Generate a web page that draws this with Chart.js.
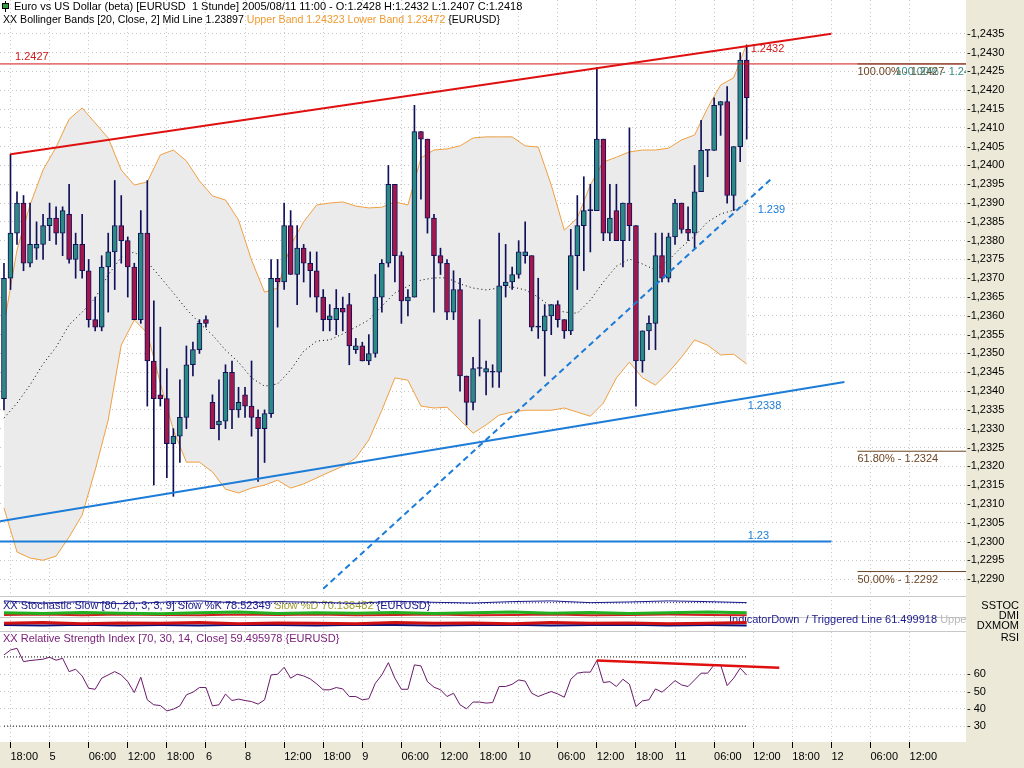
<!DOCTYPE html>
<html>
<head>
<meta charset="utf-8">
<title>EURUSD 1 Stunde</title>
<script src="https://cdn.jsdelivr.net/npm/chart.js@4.4.1/dist/chart.umd.min.js"></script>
<style>
  html, body { margin: 0; padding: 0; background: #ECE9D8; }
  #wrap { width: 1024px; height: 768px; }
</style>
</head>
<body>
<div id="wrap"><canvas id="chartMain" width="1024" height="768"></canvas></div>
<script>
'use strict';

// hourly bars, slot 0 = 2005/08/04 17:00, last slot (114) = 2005/08/11 11:00
const opens = [
  1.2338, 1.2370, 1.2382, 1.2390, 1.2374, 1.2378, 1.2379, 1.2384, 1.2386, 1.2382,
  1.2387, 1.2375, 1.2379, 1.2372, 1.2359, 1.2357, 1.2373, 1.2377, 1.2384, 1.2380,
  1.2373, 1.2359, 1.2382, 1.2348, 1.2339, 1.2338, 1.2326, 1.2328, 1.2333, 1.2347,
  1.2351, 1.2359, 1.2337, 1.2331, 1.2332, 1.2345, 1.2335, 1.2339, 1.2336, 1.2333,
  1.2330, 1.2334, 1.2370, 1.2369, 1.2384, 1.2371, 1.2378, 1.2374, 1.2372, 1.2365,
  1.2359, 1.2359, 1.2362, 1.2363, 1.2351, 1.2352, 1.2348, 1.2350, 1.2365, 1.2374,
  1.2395, 1.2376, 1.2364, 1.2365, 1.2409, 1.2407, 1.2386, 1.2376, 1.2374, 1.2361,
  1.2367, 1.2344, 1.2337, 1.2346, 1.2345, 1.2345, 1.2345, 1.2368, 1.2369, 1.2371,
  1.2376, 1.2376, 1.2357, 1.2356, 1.2360, 1.2363, 1.2359, 1.2356, 1.2376, 1.2384,
  1.2388, 1.2388, 1.2407, 1.2382, 1.2388, 1.2380, 1.2390, 1.2384, 1.2348, 1.2356,
  1.2358, 1.2376, 1.2370, 1.2381, 1.2390, 1.2383, 1.2382, 1.2393, 1.2404, 1.2404,
  1.2416, 1.2417, 1.2392, 1.2405, 1.2428
];
const highs = [
  1.2374, 1.2403, 1.2393, 1.2392, 1.2390, 1.2385, 1.2387, 1.2390, 1.2389, 1.2389,
  1.2395, 1.2382, 1.2387, 1.2375, 1.2365, 1.2376, 1.2382, 1.2396, 1.2392, 1.2381,
  1.2374, 1.2388, 1.2396, 1.2364, 1.2357, 1.2346, 1.2330, 1.2343, 1.2352, 1.2353,
  1.2359, 1.2360, 1.2339, 1.2343, 1.2347, 1.2348, 1.2341, 1.2341, 1.2348, 1.2335,
  1.2335, 1.2375, 1.2375, 1.2390, 1.2388, 1.2384, 1.2379, 1.2377, 1.2377, 1.2367,
  1.2363, 1.2367, 1.2365, 1.2366, 1.2354, 1.2353, 1.2355, 1.2371, 1.2375, 1.2400,
  1.2395, 1.2377, 1.2367, 1.2416, 1.2409, 1.2407, 1.2387, 1.2378, 1.2375, 1.2372,
  1.2370, 1.2344, 1.2349, 1.2359, 1.2348, 1.2347, 1.2382, 1.2379, 1.2373, 1.2380,
  1.2385, 1.2376, 1.2370, 1.2363, 1.2363, 1.2364, 1.2359, 1.2383, 1.2392, 1.2397,
  1.2395, 1.2426, 1.2407, 1.2395, 1.2395, 1.2390, 1.2410, 1.2384, 1.2356, 1.2360,
  1.2382, 1.2382, 1.2382, 1.2391, 1.2390, 1.2389, 1.2400, 1.2412, 1.2404, 1.2418,
  1.2417, 1.2421, 1.2405, 1.2430, 1.2432
];
const lows = [
  1.2335, 1.2367, 1.2379, 1.2372, 1.2373, 1.2375, 1.2375, 1.2380, 1.2379, 1.2376,
  1.2374, 1.2370, 1.2370, 1.2357, 1.2356, 1.2356, 1.2361, 1.2367, 1.2374, 1.2365,
  1.2359, 1.2358, 1.2336, 1.2315, 1.2336, 1.2317, 1.2312, 1.2321, 1.2330, 1.2344,
  1.2350, 1.2357, 1.2330, 1.2327, 1.2330, 1.2330, 1.2333, 1.2333, 1.2328, 1.2316,
  1.2321, 1.2333, 1.2357, 1.2367, 1.2371, 1.2363, 1.2369, 1.2365, 1.2361, 1.2356,
  1.2356, 1.2355, 1.2356, 1.2347, 1.2350, 1.2348, 1.2347, 1.2349, 1.2361, 1.2373,
  1.2369, 1.2358, 1.2360, 1.2365, 1.2391, 1.2382, 1.2361, 1.2371, 1.2359, 1.2359,
  1.2340, 1.2331, 1.2335, 1.2344, 1.2339, 1.2341, 1.2341, 1.2365, 1.2367, 1.2370,
  1.2374, 1.2356, 1.2354, 1.2344, 1.2355, 1.2357, 1.2354, 1.2355, 1.2367, 1.2372,
  1.2377, 1.2388, 1.2380, 1.2380, 1.2380, 1.2373, 1.2380, 1.2336, 1.2345, 1.2351,
  1.2351, 1.2369, 1.2369, 1.2379, 1.2382, 1.2380, 1.2378, 1.2393, 1.2397, 1.2404,
  1.2408, 1.2390, 1.2388, 1.2401, 1.2407
];
const closes = [
  1.2370, 1.2382, 1.2390, 1.2374, 1.2379, 1.2379, 1.2384, 1.2386, 1.2382, 1.2388,
  1.2375, 1.2379, 1.2372, 1.2359, 1.2357, 1.2373, 1.2377, 1.2384, 1.2380, 1.2373,
  1.2359, 1.2382, 1.2348, 1.2338, 1.2338, 1.2326, 1.2328, 1.2333, 1.2347, 1.2351,
  1.2358, 1.2358, 1.2330, 1.2332, 1.2345, 1.2335, 1.2337, 1.2336, 1.2333, 1.2330,
  1.2334, 1.2370, 1.2369, 1.2384, 1.2371, 1.2378, 1.2374, 1.2372, 1.2365, 1.2359,
  1.2360, 1.2362, 1.2361, 1.2352, 1.2352, 1.2348, 1.2350, 1.2365, 1.2374, 1.2395,
  1.2376, 1.2364, 1.2365, 1.2409, 1.2407, 1.2386, 1.2376, 1.2374, 1.2361, 1.2367,
  1.2344, 1.2337, 1.2346, 1.2346, 1.2346, 1.2345, 1.2368, 1.2369, 1.2371, 1.2377,
  1.2377, 1.2357, 1.2357, 1.2360, 1.2363, 1.2359, 1.2356, 1.2376, 1.2384, 1.2388,
  1.2388, 1.2407, 1.2382, 1.2386, 1.2380, 1.2390, 1.2384, 1.2348, 1.2356, 1.2358,
  1.2376, 1.2370, 1.2381, 1.2390, 1.2383, 1.2382, 1.2393, 1.2404, 1.2404, 1.2416,
  1.2417, 1.2392, 1.2405, 1.2428, 1.2418
];

// Bollinger bands [20, Close, 2]
const upperBand = [
  1.23576, 1.23775, 1.23895, 1.23988, 1.24049, 1.24123, 1.24153, 1.24113, 1.24073, 1.23988,
  1.23948, 1.23956, 1.24028, 1.24041, 1.24012, 1.23959, 1.23919, 1.23908, 1.23855, 1.23748,
  1.23663, 1.23674, 1.23788, 1.23850, 1.23895, 1.23900, 1.23903, 1.23892, 1.23887, 1.23889,
  1.23903, 1.23895, 1.24020, 1.24041, 1.24044, 1.24052, 1.24073, 1.24076, 1.24076, 1.24076,
  1.24052, 1.24049, 1.23948, 1.23828, 1.23860, 1.23948, 1.24009, 1.24022, 1.24036, 1.24041,
  1.24041, 1.24046, 1.24068, 1.24081, 1.24153, 1.24214, 1.24233, 1.24323
];
const lowerBand = [
  1.23089, 1.22972, 1.22956, 1.22950, 1.22961, 1.23012, 1.23070, 1.23190, 1.23323, 1.23522,
  1.23589, 1.23554, 1.23421, 1.23296, 1.23211, 1.23211, 1.23185, 1.23139, 1.23129, 1.23142,
  1.23150, 1.23163, 1.23142, 1.23153, 1.23169, 1.23185, 1.23200, 1.23222, 1.23270, 1.23349,
  1.23435, 1.23429, 1.23360, 1.23355, 1.23357, 1.23323, 1.23288, 1.23310, 1.23336, 1.23344,
  1.23349, 1.23349, 1.23349, 1.23355, 1.23344, 1.23333, 1.23368, 1.23435, 1.23477, 1.23435,
  1.23416, 1.23450, 1.23490, 1.23536, 1.23522, 1.23496, 1.23498, 1.23472
];
const midBand = [
  1.23328, 1.23368, 1.23416, 1.23472, 1.23517, 1.23576, 1.23610, 1.23647, 1.23709, 1.23756,
  1.23770, 1.23743, 1.23703, 1.23661, 1.23618, 1.23581, 1.23549, 1.23509, 1.23477, 1.23435,
  1.23413, 1.23419, 1.23456, 1.23506, 1.23533, 1.23536, 1.23552, 1.23570, 1.23589, 1.23626,
  1.23661, 1.23679, 1.23695, 1.23701, 1.23701, 1.23685, 1.23674, 1.23669, 1.23674, 1.23677,
  1.23669, 1.23650, 1.23623, 1.23610, 1.23607, 1.23642, 1.23690, 1.23732, 1.23751, 1.23738,
  1.23722, 1.23748, 1.23783, 1.23812, 1.23850, 1.23871, 1.23881, 1.23897
];
const bandSlots = upperBand.map((v, i) => i * 2);

// RSI [70, 30, 14, Close], one value per bar
const rsiValues = [
  71.2, 74.0, 75.0, 67.3, 67.9, 68.3, 68.7, 69.8, 68.1, 69.2,
  61.5, 62.9, 59.0, 51.9, 51.3, 57.7, 59.6, 61.5, 59.6, 55.7,
  49.4, 58.3, 45.2, 42.3, 41.9, 38.8, 39.8, 41.7, 48.1, 49.6,
  52.3, 52.3, 41.7, 42.3, 48.5, 44.8, 45.6, 44.8, 44.2, 42.7,
  45.2, 59.6, 60.0, 64.0, 57.7, 60.0, 59.0, 57.3, 54.4, 51.0,
  51.0, 52.3, 51.5, 47.1, 47.1, 45.2, 45.8, 54.8, 59.6, 66.7,
  57.7, 51.3, 51.3, 65.4, 64.8, 55.7, 52.5, 51.0, 47.1, 49.0,
  42.3, 40.0, 43.9, 43.9, 43.3, 43.6, 52.9, 52.9, 54.2, 56.7,
  56.0, 49.0, 47.1, 48.6, 50.0, 48.6, 46.7, 57.1, 60.6, 61.2,
  61.2, 67.9, 55.2, 55.7, 52.9, 57.1, 54.2, 41.3, 44.6, 45.2,
  51.5, 49.6, 52.9, 56.3, 53.8, 52.9, 56.7, 60.6, 60.6, 65.4,
  65.4, 53.4, 57.7, 63.5, 59.5
];

// the squeezed stochastic / DMI / DX momentum strip, read every 6th bar
const stochK   = [86, 80, 84, 78, 82, 86, 80, 84, 82, 79, 85, 82, 80, 84, 86, 81, 83, 86, 84, 81];
const stochD   = [80, 79, 80, 79, 78, 80, 80, 79, 80, 78, 80, 80, 79, 80, 81, 80, 80, 81, 81, 80];
const dmiPlus  = [52, 50, 53, 51, 49, 52, 54, 50, 52, 51, 53, 50, 52, 54, 51, 53, 50, 52, 54, 52];
const dmiMinus = [46, 47, 45, 47, 46, 45, 47, 46, 47, 45, 46, 47, 45, 46, 47, 45, 46, 47, 46, 45];
const dxLine   = [22, 24, 21, 23, 22, 24, 21, 23, 22, 21, 24, 22, 23, 21, 24, 22, 23, 21, 22, 24];
const dxSignal = [17, 16, 18, 16, 17, 16, 18, 17, 16, 18, 17, 16, 17, 18, 16, 17, 18, 16, 17, 16];
const stripSlots = stochK.map((v, i) => i * 6);

// drawn lines: [slot, value] pairs
const resistLine = [[1, 1.2403], [127, 1.2435]];
const supportLine = [[-0.6, 1.23054], [129, 1.23424]];
const dashLine = [[49, 1.22874], [118, 1.23968]];
const rsiTrend = [[91, 67.9], [119, 63.8]];
const redLevel = 1.2427;
const blueLevel = 1.23;
const fibLevels = [1.2427, 1.2324, 1.2292];
const fibNames = ['100.00%', '61.80%', '50.00%'];

// axis labels
const xTickLabels = ['18:00', '5', '06:00', '12:00', '18:00', '6', '8', '12:00', '18:00', '9',
  '06:00', '12:00', '18:00', '10', '06:00', '12:00', '18:00', '11', '06:00', '12:00',
  '18:00', '12', '06:00', '12:00'];
const xTickSlots = xTickLabels.map((l, i) => 1 + i * 6);
const priceTicks = [];
for (let p = 12290; p <= 12435; p += 5) priceTicks.push(p / 10000);
const rsiTicks = [30, 40, 50, 60];

const xMin = -0.61, xMax = 147.66;
const fontName = '"Liberation Sans", Arial, sans-serif';
const last = opens.length - 1;

// helpers
let pairs = (xs, ys) => xs.map((x, i) => ({x: x, y: ys[i]}));
let segment = (pts) => pts.map(p => ({x: p[0], y: p[1]}));
let flat = (x0, x1, v) => [{x: x0, y: v}, {x: x1, y: v}];
const bodyColors = closes.map((c, i) => c > opens[i] ? '#2B8A84' : (c < opens[i] ? '#A3174B' : '#10105A'));
const barIdx = opens.map((v, i) => i);

function lineSet(label, data, axis, color, width, extra) {
  return Object.assign({
    type: 'line', label: label, data: data, yAxisID: axis,
    borderColor: color, borderWidth: width, pointRadius: 0, fill: false, tension: 0, order: 3
  }, extra || {});
}

function drawParts(ctx, parts, x, y) {
  parts.forEach(function(p) {
    ctx.fillStyle = p[1];
    ctx.fillText(p[0], x, y);
    x += ctx.measureText(p[0]).width;
  });
}

// every axis box keeps its exact size, no label overhang padding
function fixBox(size, vertical) {
  return function(s) {
    if (vertical) { s.width = size; } else { s.height = size; }
    s.paddingTop = 0; s.paddingBottom = 0; s.paddingLeft = 0; s.paddingRight = 0;
  };
}

const datasets = [
  lineSet('Upper Band', pairs(bandSlots, upperBand), 'y', '#F0A040', 1, {fill: '+1', backgroundColor: '#EBEBEB', order: 20}),
  lineSet('Lower Band', pairs(bandSlots, lowerBand), 'y', '#F0A040', 1, {order: 19}),
  lineSet('Mid Line', pairs(bandSlots, midBand), 'y', '#000000', 1, {borderDash: [1, 3], order: 18}),
  {
    type: 'bar', label: 'Wick', yAxisID: 'y', grouped: false, order: 10,
    data: barIdx.map(i => ({x: i, y: [lows[i], highs[i]]})),
    backgroundColor: '#10105A', barThickness: 1
  },
  {
    type: 'bar', label: 'Body', yAxisID: 'y', grouped: false, order: 9,
    data: barIdx.map(i => ({x: i, y: [opens[i], closes[i]]})),
    backgroundColor: bodyColors, borderColor: '#10105A', borderWidth: 1,
    borderSkipped: false, barThickness: 5, minBarLength: 1
  },
  lineSet('1.2427', flat(xMin, xMax, redLevel), 'y', '#D01818', 1),
  lineSet('1.23', flat(xMin, 127, blueLevel), 'y', '#1C7CD8', 2),
  lineSet('Resistance', segment(resistLine), 'y', '#E01010', 2, {order: 2}),
  lineSet('Support', segment(supportLine), 'y', '#1C7CD8', 2, {order: 2}),
  lineSet('Trend', segment(dashLine), 'y', '#1C7CD8', 2, {borderDash: [6, 4], order: 2})
];
fibLevels.forEach(function(v, i) {
  datasets.push(lineSet('Fib ' + fibNames[i], flat(131, xMax, v), 'y', '#6B4423', 1, {order: 1}));
});
datasets.push(
  lineSet('SSTOC %K', pairs(stripSlots, stochK), 'ys', '#1A1A8C', 1),
  lineSet('SSTOC %D', pairs(stripSlots, stochD), 'ys', '#1A1A8C', 1, {borderDash: [1, 2]}),
  lineSet('DMI+', pairs(stripSlots, dmiPlus), 'ys', '#20B020', 3),
  lineSet('DMI-', pairs(stripSlots, dmiMinus), 'ys', '#D02020', 2),
  lineSet('DXMOM', pairs(stripSlots, dxLine), 'ys', '#D01010', 3),
  lineSet('DXMOM signal', pairs(stripSlots, dxSignal), 'ys', '#10107A', 2),
  lineSet('RSI 70', flat(0, last, 70), 'yr', '#000000', 1, {borderDash: [1, 2]}),
  lineSet('RSI 30', flat(0, last, 30), 'yr', '#000000', 1, {borderDash: [1, 2]}),
  lineSet('RSI', pairs(barIdx, rsiValues), 'yr', '#6A1A6A', 1),
  lineSet('RSI trend', segment(rsiTrend), 'yr', '#E01010', 2.5, {order: 1})
);

// backgrounds, panel titles, value labels
const decor = {
  id: 'decor',
  beforeDraw(chart) {
    const {ctx, chartArea: a, width, height} = chart;
    ctx.save();
    ctx.fillStyle = '#ECE9D8';
    ctx.fillRect(0, 0, width, height);
    ctx.fillStyle = '#FFFFFF';
    ctx.fillRect(a.left, a.top, a.right - a.left, a.bottom - a.top);
    ctx.restore();
  },
  beforeDatasetsDraw(chart) {
    const {ctx, chartArea: a, scales} = chart;
    const ys = scales.ys, yr = scales.yr;
    ctx.save();
    ctx.strokeStyle = '#C8C8C8';
    ctx.lineWidth = 1;
    [ys.top, ys.top + 21, yr.top].forEach(function(yy) {
      ctx.beginPath();
      ctx.moveTo(a.left, Math.round(yy) + 0.5);
      ctx.lineTo(a.right, Math.round(yy) + 0.5);
      ctx.stroke();
    });
    ctx.beginPath();
    ctx.rect(a.left, a.top, a.right - a.left, a.bottom - a.top);
    ctx.clip();
    ctx.font = '11px ' + fontName;
    ctx.textBaseline = 'middle';
    drawParts(ctx, [['XX Stochastic Slow [80, 20, 3, 3, 9] Slow %K 78.52349 ', '#1A1A8C'],
      ['Slow %D 70.138482', '#A0A030'], [' {EURUSD}', '#1A1A8C']], 3, ys.top + 10);
    const xs = scales.x;
    const pre = ctx.measureText('Indi').width;
    drawParts(ctx, [['IndicatorDown  / Triggered Line 61.499918 ', '#1A1A8C'], ['UpperArea', '#B8B8B8']],
      xs.getPixelForValue(last) - pre, ys.top + 24);
    drawParts(ctx, [['XX Relative Strength Index [70, 30, 14, Close] 59.495978 {EURUSD}', '#7A207A']], 3, yr.top + 8);
    ctx.restore();
  },
  afterDraw(chart) {
    const {ctx, scales} = chart;
    const xs = scales.x, y = scales.y, ys = scales.ys, yr = scales.yr;
    ctx.save();
    ctx.font = '11px ' + fontName;
    ctx.textBaseline = 'middle';
    // header icon
    ctx.fillStyle = '#000000';
    ctx.fillRect(5, 1, 1, 11);
    ctx.fillStyle = '#30A040';
    ctx.fillRect(2, 3, 7, 6);
    ctx.strokeStyle = '#000000';
    ctx.strokeRect(2.5, 3.5, 6, 5);
    drawParts(ctx, [['Euro vs US Dollar (beta) [EURUSD  1 Stunde] 2005/08/11 11:00 - O:1.2428 H:1.2432 L:1.2407 C:1.2418', '#000000']], 14, 7);
    ctx.font = '10.6px ' + fontName;
    drawParts(ctx, [['XX Bollinger Bands [20, Close, 2] Mid Line 1.23897 ', '#000000'],
      ['Upper Band 1.24323 Lower Band 1.23472', '#F09A30'], [' {EURUSD}', '#000000']], 3, 20);
    ctx.font = '11px ' + fontName;
    // line value labels
    const xl = xs.getPixelForValue(last);
    drawParts(ctx, [['1.2427', '#D01818']], 15, y.getPixelForValue(redLevel) - 7);
    drawParts(ctx, [['1.2432', '#D01818']], xl + 4, y.getPixelForValue(1.2432) + 4);
    drawParts(ctx, [['1.239', '#1C7CD8']], xl + 11, y.getPixelForValue(1.239) + 7);
    drawParts(ctx, [['1.2338', '#1C7CD8']], xl + 1, y.getPixelForValue(1.2338) + 7);
    drawParts(ctx, [['1.23', '#1C7CD8']], xl + 1, y.getPixelForValue(blueLevel) - 6);
    // fibonacci labels
    const fx = xs.getPixelForValue(131);
    ctx.save();
    ctx.beginPath();
    ctx.rect(0, 0, xs.right, chart.height);
    ctx.clip();
    fibLevels.forEach(function(v, i) {
      drawParts(ctx, [[fibNames[i] + ' - ' + v.toFixed(4), '#6B4423']], fx, y.getPixelForValue(v) + 8);
    });
    drawParts(ctx, [['100.00% - 1.2427', '#3A8A80']], fx + 38, y.getPixelForValue(1.2427) + 8);
    ctx.restore();
    // panel names in the right axis strip
    ctx.textAlign = 'right';
    drawParts(ctx, [['SSTOC', '#000000']], 1019, ys.top + 10);
    drawParts(ctx, [['DMI', '#000000']], 1019, ys.top + 20);
    drawParts(ctx, [['DXMOM', '#000000']], 1019, ys.top + 30);
    drawParts(ctx, [['RSI', '#000000']], 1019, yr.top + 7);
    ctx.restore();
  }
};

const gridColor = '#C8C8C8';
const ctxMain = document.getElementById('chartMain').getContext('2d');
/* eslint-disable-next-line no-undef, no-unused-vars */
let chartMain = new Chart(ctxMain, {
  type: 'bar',
  data: {datasets: datasets},
  plugins: [decor],
  options: {
    responsive: false,
    animation: false,
    devicePixelRatio: 1,
    events: [],
    layout: {padding: 0},
    font: {family: fontName, size: 11},
    plugins: {legend: {display: false}, tooltip: {enabled: false}},
    scales: {
      x: {
        type: 'linear', position: 'bottom', min: xMin, max: xMax, offset: false,
        afterBuildTicks: s => { s.ticks = xTickSlots.map(v => ({value: v})); },
        afterFit: fixBox(26, false),
        ticks: {
          autoSkip: false, maxRotation: 0, align: 'start', padding: 2,
          color: '#000000', font: {family: fontName, size: 11},
          callback: (v, i) => xTickLabels[i]
        },
        grid: {color: gridColor, offset: false, tickLength: 6, tickColor: '#000000', tickWidth: 1},
        border: {display: false, dash: [1, 3]}
      },
      y: {
        type: 'linear', position: 'right', stack: 'panes', stackWeight: 596,
        min: 1.22855, max: 1.2444,
        afterBuildTicks: s => { s.ticks = priceTicks.map(v => ({value: v})); },
        afterFit: fixBox(58, true),
        ticks: {
          autoSkip: false, padding: 1, color: '#000000', font: {family: fontName, size: 11},
          callback: v => '-' + v.toFixed(4).replace('.', ',')
        },
        grid: {color: gridColor, drawTicks: false},
        border: {display: false, dash: [1, 3]}
      },
      ys: {
        type: 'linear', position: 'right', stack: 'panes', stackWeight: 35,
        min: 0, max: 100,
        afterFit: fixBox(58, true),
        ticks: {display: false},
        grid: {display: false},
        border: {display: false}
      },
      yr: {
        type: 'linear', position: 'right', stack: 'panes', stackWeight: 111,
        min: 20.8, max: 85,
        afterBuildTicks: s => { s.ticks = rsiTicks.map(v => ({value: v})); },
        afterFit: fixBox(58, true),
        ticks: {
          autoSkip: false, padding: 1, color: '#000000', font: {family: fontName, size: 11},
          callback: v => '- ' + v
        },
        grid: {color: gridColor, drawTicks: false},
        border: {display: false, dash: [1, 3]}
      }
    }
  }
});
</script>
</body>
</html>
